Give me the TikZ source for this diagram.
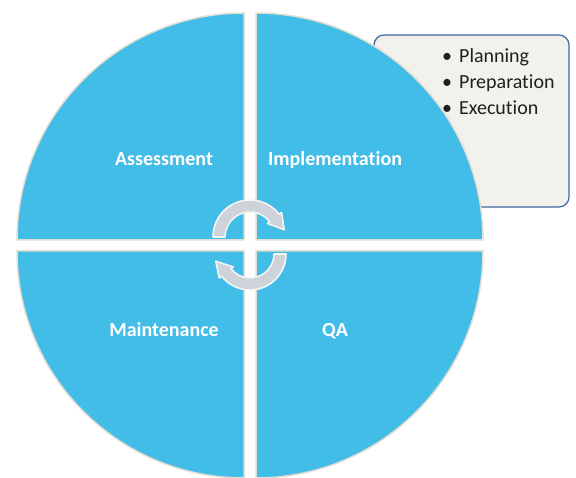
\documentclass[tikz,border=0pt]{standalone}
\usepackage{fontspec}
\setmainfont{Carlito}[Ligatures={NoCommon}]
\usetikzlibrary{backgrounds}
\definecolor{quadblue}{RGB}{66,189,232}
\definecolor{quadrim}{RGB}{226,222,212}
\definecolor{boxfill}{RGB}{242,241,236}
\definecolor{boxrim}{RGB}{62,104,160}
\definecolor{turngray}{RGB}{206,210,217}
\definecolor{turnrim}{RGB}{244,244,244}
\newcommand{\rad}{227}
\newcommand{\rim}{1.5pt}
\newcommand{\bigtext}{\fontsize{20}{24}\selectfont}

\begin{document}
\begin{tikzpicture}[x=1pt,y=1pt,
  quad/.style={fill=quadblue, draw=quadrim, line width=\rim},
  quadtext/.style={text=white, font=\bigtext\bfseries, inner sep=0, anchor=base},
  itemtext/.style={text=black!88, font=\bigtext, inner sep=0, anchor=base west},
  turn/.style={fill=turngray, draw=turnrim, line width=1.6pt, line join=round}]
\useasboundingbox (0,0) rectangle (576,477);
%notes box
\node[draw=boxrim, fill=boxfill, rounded corners=10pt, line width=1.2pt, minimum width=195, minimum height=172, inner sep=0] (notes) at (471.5,356) {};
\node[itemtext] (1) at (442,414) {\textbullet\hspace{7pt}Planning};
\node[itemtext] (2) at (442,388) {\textbullet\hspace{7pt}Preparation};
\node[itemtext] (3) at (442,362) {\textbullet\hspace{7pt}Execution};
%quadrants
\coordinate (tl) at (244,237);
\coordinate (tr) at (256,237);
\coordinate (bl) at (244,226);
\coordinate (br) at (256,226);
\draw[quad] (tl) -- ++(-\rad,0) arc[start angle=180, end angle=90, radius=\rad] -- cycle;
\draw[quad] (tr) -- ++(0,\rad) arc[start angle=90, end angle=0, radius=\rad] -- cycle;
\draw[quad] (bl) -- ++(0,-\rad) arc[start angle=270, end angle=180, radius=\rad] -- cycle;
\draw[quad] (br) -- ++(\rad,0) arc[start angle=0, end angle=-90, radius=\rad] -- cycle;
\node[quadtext] (a) at (164,311) {Assessment};
\node[quadtext] (b) at (335,311) {Implementation};
\node[quadtext] (c) at (164,140) {Maintenance};
\node[quadtext] (d) at (335,140) {QA};
%turning arrows
\coordinate (up) at (250,240);
\coordinate (lo) at (250,223);
\draw[turn] ([shift={(180:37)}]up) arc[start angle=180, end angle=38, radius=37] -- ([shift={(38:40)}]up) -- ([shift={(12:35)}]up) -- ([shift={(38:22)}]up) -- ([shift={(38:25)}]up) arc[start angle=38, end angle=180, radius=25] -- cycle;
\draw[turn] ([shift={(0:36)}]lo) arc[start angle=0, end angle=-142, radius=36] -- ([shift={(-142:39)}]lo) -- ([shift={(-168:35)}]lo) -- ([shift={(-142:21)}]lo) -- ([shift={(-142:24)}]lo) arc[start angle=-142, end angle=0, radius=24] -- cycle;
\end{tikzpicture}
\end{document}
